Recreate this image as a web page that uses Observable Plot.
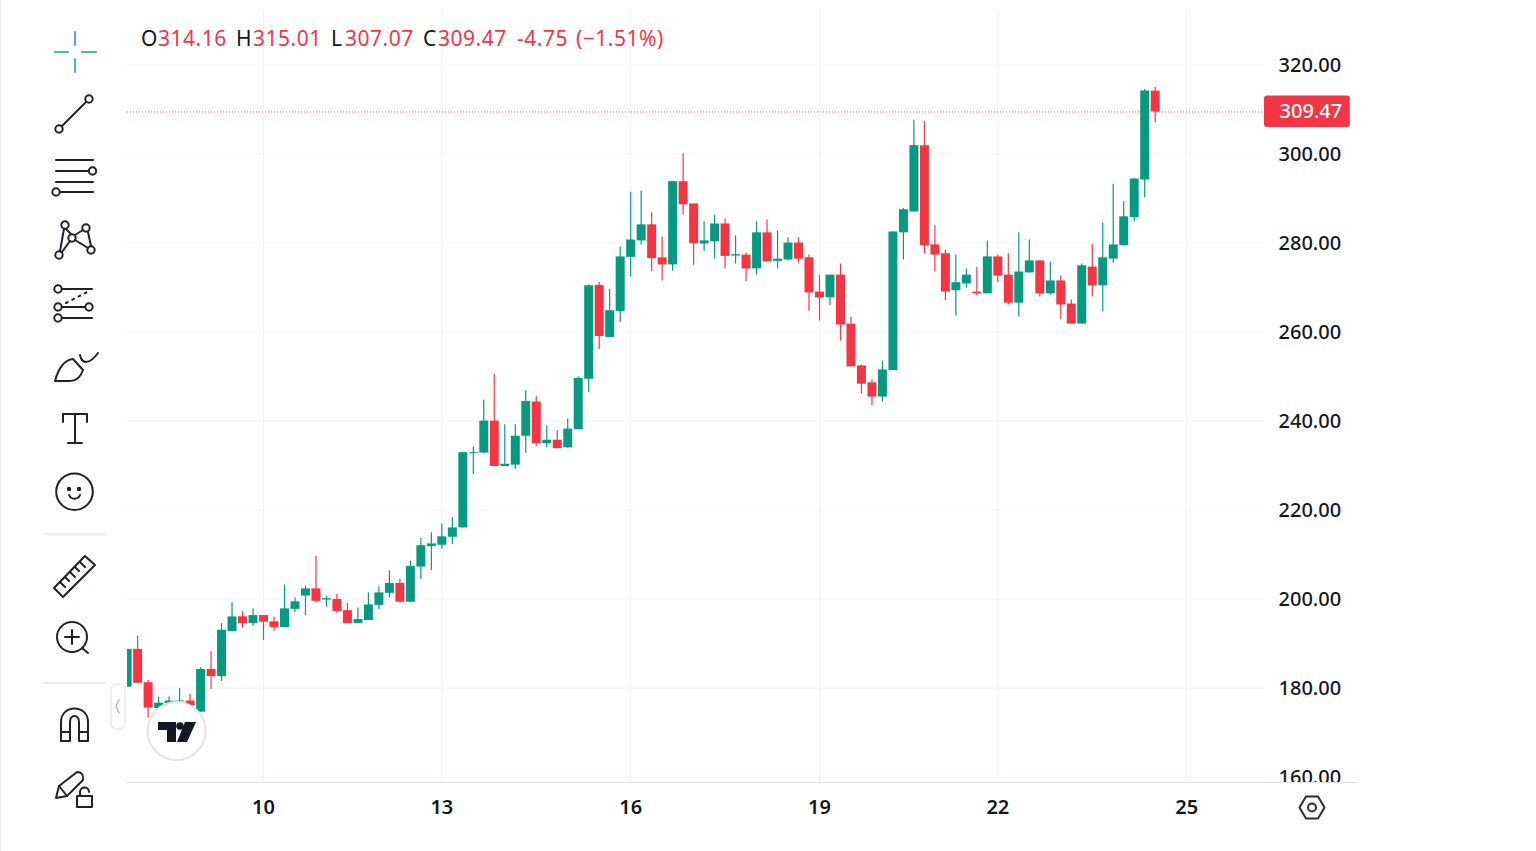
<!DOCTYPE html>
<html>
<head>
<meta charset="utf-8">
<script src="https://cdn.jsdelivr.net/npm/d3@7"></script>
<script src="https://cdn.jsdelivr.net/npm/@observablehq/plot@0.6"></script>
<style>
html,body{margin:0;padding:0;background:#fff;overflow:hidden}
#wrap{position:relative;width:1536px;height:851px;font-family:"Noto Sans",sans-serif}
#wrap>svg{position:absolute;left:0;top:0}
.lg{position:absolute;top:22.5px;font-size:21px;line-height:30px;white-space:nowrap;letter-spacing:.5px}
</style>
</head>
<body>
<div id="wrap"></div>
<script>
const firstIndex = -1;
const open = [
 180.2,188.7,181.2,175.4,176.5,176.9,177.1,174.6,184.2,182.6,
 192.7,196.0,194.5,196.3,194.9,193.6,197.7,200.7,202.3,199.8,
 199.9,197.4,194.5,195.2,198.6,201.3,203.5,199.3,207.2,211.8,
 212.1,213.9,216.0,232.7,232.8,240.0,229.8,230.1,236.6,244.3,
 234.9,235.7,234.0,238.1,249.4,270.5,258.8,264.6,276.8,280.5,
 284.1,276.7,275.1,293.8,288.8,279.8,280.3,284.3,277.1,277.3,
 274.2,282.3,275.9,276.2,280.0,276.7,269.0,267.7,272.8,261.8,
 252.4,248.6,245.4,251.4,282.3,287.0,301.9,279.6,277.6,269.3,
 270.8,269.0,268.6,276.9,272.8,266.5,273.3,276.0,268.6,271.5,
 266.3,261.8,274.6,270.4,276.4,279.4,285.7,294.2,314.16];
const high = [
 188.7,191.7,181.7,178.0,178.0,179.9,178.6,184.6,188.2,194.5,
 199.2,197.2,197.8,196.3,195.9,203.2,200.3,202.8,209.6,200.6,
 201.1,199.0,198.0,201.4,202.8,206.4,204.4,208.5,213.6,214.9,
 216.9,218.3,233.0,234.2,244.7,250.5,239.2,239.2,246.8,245.5,
 238.9,237.9,240.5,249.9,270.6,271.2,269.6,279.1,291.4,291.7,
 286.8,281.3,293.8,300.1,288.8,284.8,286.3,285.4,281.6,277.8,
 284.8,285.2,282.7,281.2,281.2,277.3,272.8,272.8,275.3,263.4,
 252.6,249.3,253.5,282.5,287.8,307.6,307.3,283.9,278.4,277.3,
 274.2,274.6,280.5,277.3,277.6,282.3,280.7,276.0,275.7,272.6,
 267.2,275.3,279.7,284.5,293.2,289.3,294.4,314.5,315.01];
const low = [
 180.2,181.0,173.2,174.5,175.6,176.1,175.0,174.6,179.7,181.5,
 192.7,193.5,193.9,190.7,192.8,193.6,197.0,196.3,199.1,198.2,
 196.8,194.5,194.5,195.2,197.6,200.3,199.1,199.3,204.4,206.4,
 211.2,212.3,216.0,228.0,232.8,229.8,229.8,229.1,232.8,234.3,
 234.0,233.8,233.9,238.0,246.4,256.1,258.8,262.1,272.4,279.6,
 273.7,271.5,273.7,286.3,275.0,278.1,276.4,274.2,275.3,271.3,
 272.8,275.8,274.2,276.0,275.5,264.7,262.5,265.9,258.0,252.2,
 246.1,243.5,244.3,251.4,276.2,287.0,277.6,273.5,267.1,263.6,
 269.9,268.1,268.6,271.1,266.1,263.4,273.3,267.9,268.3,262.9,
 261.8,261.8,267.9,264.5,275.5,279.4,284.8,290.2,307.07];
const close = [
 188.7,181.1,175.5,176.6,177.1,177.1,176.0,184.2,182.6,193.0,
 196.0,194.5,196.3,194.8,193.6,197.8,199.4,202.3,199.5,200.1,
 197.2,194.5,195.4,198.7,201.4,203.5,199.3,207.3,212.0,212.4,
 214.0,216.0,232.9,232.9,240.0,229.8,230.3,236.6,244.4,234.9,
 235.7,233.8,238.2,249.6,270.4,259.0,264.8,276.9,280.7,284.1,
 276.5,275.1,293.8,288.6,279.9,280.5,284.3,277.0,277.4,274.2,
 282.3,275.8,276.4,280.0,276.4,268.8,267.7,272.8,261.6,252.2,
 248.3,245.4,251.5,282.5,287.5,301.9,279.4,277.3,269.0,271.1,
 272.8,268.6,276.9,272.6,266.5,273.5,276.0,268.6,271.5,266.1,
 261.8,274.9,270.4,276.7,279.6,285.9,294.4,314.2,309.47];
const xTickIndex = [12, 29, 47, 65, 82, 100];
const xTickLabels = ["10", "13", "16", "19", "22", "25"];
const yTicks = [160, 180, 200, 220, 240, 260, 280, 300, 320];
const lastClose = 309.47;
const legendItems = [
 ["O",141,"#131722"],["314.16",158,"#F23645"],["H",236,"#131722"],["315.01",253,"#F23645"],
 ["L",331,"#131722"],["307.07",345,"#F23645"],["C",423,"#131722"],["309.47",438,"#F23645"],
 ["-4.75",517,"#F23645"],["(\u22121.51%)",576,"#F23645"]];

const UP = "#089981", DOWN = "#F23645", GRID = "#f2f3f6", LINE = "#e0e3eb", INK = "#131722";
const candles = open.map((o, i) => ({i: firstIndex + i, o, h: high[i], l: low[i], c: close[i],
  color: close[i] >= o ? UP : DOWN}));

const xMin = -0.965, xMax = 107.42, xAxisEnd = 116.38, yBottom = 158.79, yTop = 332.27;

const chart = Plot.plot({
  width: 1536, height: 851,
  marginLeft: 127, marginRight: 272, marginTop: 10, marginBottom: 69,
  style: {fontFamily: '"Noto Sans",sans-serif', background: "#fff"},
  x: {type: "linear", domain: [xMin, xMax]},
  y: {type: "linear", domain: [yBottom, yTop]},
  marks: [
    Plot.ruleX(xTickIndex, {stroke: GRID, strokeWidth: 1}),
    Plot.ruleY(yTicks, {stroke: GRID, strokeWidth: 1}),
    Plot.ruleY([lastClose], {stroke: DOWN, strokeWidth: 1, strokeDasharray: "1,2", strokeOpacity: .8}),
    Plot.axisY(yTicks, {anchor: "right", label: null, tickSize: 0, tickPadding: 14, fontSize: 20,
      fontWeight: 500, fill: INK, tickFormat: d3.format(".2f")}),
    Plot.rect([0], {x1: xMin, x2: xAxisEnd, y1: yBottom, y2: yBottom - 15, fill: "#fff"}),
    Plot.ruleY([yBottom], {x1: xMin, x2: xAxisEnd, stroke: LINE, strokeWidth: 1.2}),
    Plot.ruleX(candles, {x: "i", y1: "l", y2: "h", stroke: "color", strokeWidth: 1.2, clip: true}),
    Plot.ruleX(candles, {x: "i", y1: "o", y2: "c", stroke: "color", strokeWidth: 9, clip: true}),
    Plot.rect([lastClose], {x1: xMax, x2: 115.6, y1: d => d - 3.47, y2: d => d + 3.56, fill: DOWN, rx: 3}),
    Plot.text([lastClose], {x: xMax, y: d => d, text: d3.format(".2f"), textAnchor: "start", dx: 15,
      fontSize: 20, fontWeight: 500, fill: "#fff"}),
    Plot.axisX(xTickIndex, {label: null, tickSize: 0, tickPadding: 17, fontSize: 20, fontWeight: 600,
      fill: INK, tickFormat: (d, i) => xTickLabels[i]})
  ]
});
const wrap = document.getElementById("wrap");
wrap.appendChild(chart);

const NS = `<svg xmlns="http://www.w3.org/2000/svg" width="1536" height="851" viewBox="0 0 1536 851" fill="none" stroke="#2a2e39" stroke-width="2" stroke-linecap="round" stroke-linejoin="round">
<line x1="0.5" y1="0" x2="0.5" y2="851" stroke="#eceef2" stroke-width="1"/>
<g stroke="#4db6ac"><path d="M55 52H68M82 52H96M75 32V45M75 59V72"/></g>
<g stroke="#1f2329"><circle cx="59" cy="129" r="3.7"/><circle cx="89" cy="99" r="3.7"/><path d="M62 126L86 102"/>
<path d="M56 160H93M56 171H89M56 182H93M60 192H93"/><circle cx="92.5" cy="171" r="3.7"/><circle cx="56" cy="192" r="3.7"/>
<circle cx="65" cy="225" r="3.7"/><circle cx="86" cy="228" r="3.7"/><circle cx="72" cy="238" r="3.7"/><circle cx="59" cy="255" r="3.7"/><circle cx="91" cy="250" r="3.7"/>
<path d="M64 229L60 251M66 229L71 234M75 235L83 230M88 232L91 246M62 252L70 241M75 240L88 248"/>
<circle cx="58" cy="289" r="3.7"/><path d="M62 289H92"/><circle cx="58" cy="307" r="3.7"/><circle cx="89" cy="307" r="3.7"/><path d="M62 307H85"/>
<circle cx="58" cy="318" r="3.7"/><path d="M62 318H92"/><path d="M66 303L89 291" stroke-dasharray="2 5"/>
<path d="M55 381C58 370 64 360 73 359L83 370C81 376 77 381 70 381Z"/><path d="M80 355C82 365 90 364 98 353"/>
<path d="M63 422V414H87V422M75 414V443M68 443H82"/>
<circle cx="74.5" cy="491.7" r="18.3"/><path d="M69 495C71 500 78 500 80 495"/><circle cx="69" cy="489" r="1.2" fill="#1f2329"/><circle cx="79" cy="489" r="1.2" fill="#1f2329"/>
<path d="M54 588L85 556L95 565L63 597Z"/><path d="M60 582L65 587M65 577L69 581M70 572L75 577M75 567L79 571M80 562L85 567"/>
<circle cx="72" cy="637" r="15"/><path d="M72 630V644M65 637H79M82 648L88 653"/>
<path d="M61 741V722C61 704 88 704 88 722V741H79V722C79 714 70 714 70 722V741Z"/><path d="M61 732H70M79 732H88"/>
<path d="M56 798L59 786L77 772Q84 772 83 780L67 796Z"/><path d="M59 786L67 796"/><path d="M77 807V796H92V807Z" fill="#fff"/><path d="M80 796V792C80 786 89 786 89 792"/></g>
<g stroke="#ececec" stroke-width="2"><path d="M44 534.5H105M44 683H105"/></g>
<rect x="111" y="684" width="14" height="45" rx="6" stroke="#ebebeb" stroke-width="1.5" fill="#fff"/>
<path d="M119 700L116 706L119 713" stroke="#b2b5be" stroke-width="1.5"/>
<circle cx="176.5" cy="731" r="29" fill="#fff" stroke="#e4e4e4" stroke-width="2"/>
<g fill="#131722" stroke="none"><path d="M158 722H176V742H167V730H158Z"/><circle cx="180" cy="726" r="3.8"/><path d="M185 722H196L187 742H177Z"/></g>
<path d="M1306 796.5H1318L1324.5 807.5L1318 818.5H1306L1299.5 807.5Z" stroke="#2a2e39"/><circle cx="1312" cy="807.5" r="4" stroke="#2a2e39"/>
</svg>`;
wrap.insertAdjacentHTML("beforeend", NS);

legendItems.forEach(([t, x, c]) => {
  const s = document.createElement("span");
  s.className = "lg"; s.textContent = t; s.style.left = x + "px"; s.style.color = c;
  wrap.appendChild(s);
});
</script>
</body>
</html>
